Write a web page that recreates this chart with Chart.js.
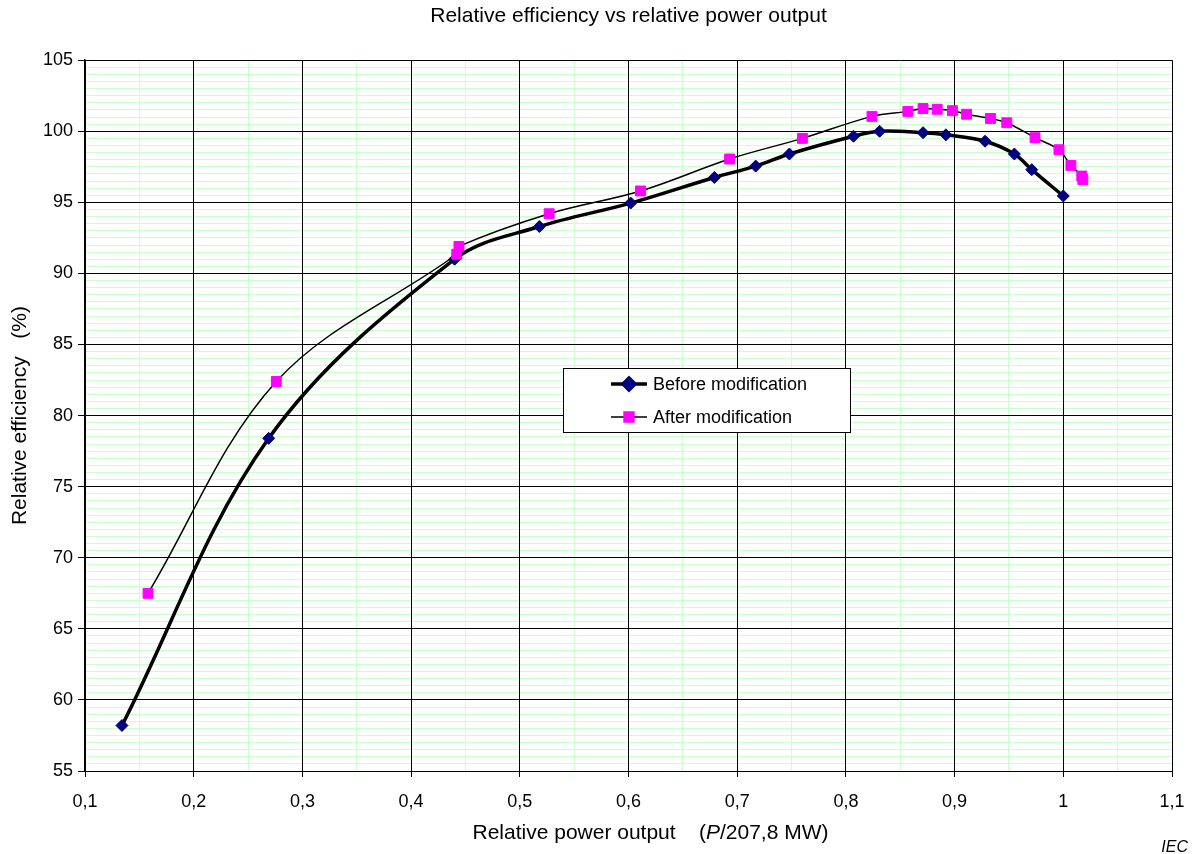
<!DOCTYPE html>
<html>
<head>
<meta charset="utf-8">
<script src="https://cdn.jsdelivr.net/npm/chart.js@4"></script>
<style>
  html, body { margin: 0; padding: 0; background: #fff; }
  canvas { display: block; }
</style>
</head>
<body>
<canvas id="chart" width="1196" height="854"></canvas>
<script>
// values
const beforeX = [0.134, 0.269, 0.440, 0.518, 0.602, 0.679, 0.717, 0.748, 0.807, 0.831, 0.871, 0.892, 0.928, 0.955, 0.971, 1.000];
const beforeY = [58.2, 78.4, 91.0, 93.3, 94.95, 96.75, 97.55, 98.4, 99.65, 100.0, 99.9, 99.75, 99.3, 98.4, 97.3, 95.45];
const afterX = [0.158, 0.276, 0.442, 0.444, 0.527, 0.611, 0.693, 0.760, 0.824, 0.857, 0.871, 0.884, 0.898, 0.911, 0.933, 0.948, 0.974, 0.996, 1.007, 1.017, 1.018];
const afterY = [67.5, 82.4, 91.35, 91.9, 94.2, 95.8, 98.05, 99.5, 101.05, 101.4, 101.6, 101.55, 101.45, 101.2, 100.9, 100.6, 99.55, 98.7, 97.6, 96.85, 96.6];
const seriesNames = ['Before modification', 'After modification'];
const chartTitle = 'Relative efficiency vs relative power output';
const yTitle = 'Relative efficiency   (%)';

const FONT = "'Liberation Sans', Arial, sans-serif";
Chart.defaults.color = '#000';
Chart.defaults.font.family = FONT;
Chart.defaults.font.size = 18;

const toPoints = (xs, ys) => xs.map((x, i) => ({ x: x, y: ys[i] }));
const MINOR = '#ccffcc';

// x-axis title with italic P, the IEC mark and the boxed legend
const extrasPlugin = {
  id: 'extras',
  afterDraw(chart) {
    const { ctx, chartArea } = chart;
    ctx.save();
    ctx.fillStyle = '#000';
    ctx.textBaseline = 'middle';

    // x axis title
    const parts = [
      { t: 'Relative power output    (', f: '21px ' + FONT },
      { t: 'P', f: 'italic 21px ' + FONT },
      { t: '/207,8 MW)', f: '21px ' + FONT }
    ];
    let total = 0;
    parts.forEach(p => { ctx.font = p.f; p.w = ctx.measureText(p.t).width; total += p.w; });
    let x = (chartArea.left + chartArea.right) / 2 + 22 - total / 2;
    ctx.textAlign = 'left';
    parts.forEach(p => { ctx.font = p.f; ctx.fillText(p.t, x, 833); x += p.w; });

    // IEC
    ctx.font = 'italic 16px ' + FONT;
    ctx.textAlign = 'right';
    ctx.textBaseline = 'alphabetic';
    ctx.fillText('IEC', 1188, 852);

    // legend
    const bx = 563.5, by = 368.5, bw = 287, bh = 64;
    ctx.fillStyle = '#fff';
    ctx.fillRect(bx, by, bw, bh);
    ctx.strokeStyle = '#000';
    ctx.lineWidth = 1;
    ctx.strokeRect(bx, by, bw, bh);
    const rows = [384, 417];
    chart.data.datasets.forEach(ds => {
      const ry = rows[ds.legendRow];
      ctx.beginPath();
      ctx.strokeStyle = ds.borderColor;
      ctx.lineWidth = ds.borderWidth;
      ctx.moveTo(611, ry);
      ctx.lineTo(647, ry);
      ctx.stroke();
      ctx.fillStyle = ds.pointBackgroundColor;
      ctx.strokeStyle = ds.pointBorderColor;
      Chart.helpers.drawPoint(ctx, { pointStyle: ds.pointStyle, radius: ds.pointRadius, borderWidth: 1, rotation: 0 }, 629, ry);
      ctx.fillStyle = '#000';
      ctx.font = '18px ' + FONT;
      ctx.textAlign = 'left';
      ctx.textBaseline = 'middle';
      ctx.fillText(ds.label, 653, ry + 1);
    });
    ctx.restore();
  }
};

// hidden axes that only carry the light green minor grid, drawn under the major one
const minorAxis = (pos, min, max, step) => ({
  type: 'linear',
  position: pos,
  min: min,
  max: max,
  afterFit(scale) {
    if (pos === 'bottom') scale.height = 0; else scale.width = 0;
    scale.paddingLeft = scale.paddingRight = scale.paddingTop = scale.paddingBottom = 0;
  },
  ticks: { display: false, stepSize: step, autoSkip: false },
  grid: { color: MINOR, drawTicks: false, z: -2, lineWidth: 1 },
  border: { display: false }
});

new Chart(document.getElementById('chart'), {
  type: 'scatter',
  data: {
    datasets: [
      {
        label: seriesNames[1],
        legendRow: 1,
        data: toPoints(afterX, afterY),
        showLine: true,
        borderColor: '#000',
        borderWidth: 1.5,
        tension: 0.35,
        pointStyle: 'rect',
        pointRadius: 7,
        pointBackgroundColor: '#ff00ff',
        pointBorderColor: '#ff00ff',
        pointBorderWidth: 1
      },
      {
        label: seriesNames[0],
        legendRow: 0,
        data: toPoints(beforeX, beforeY),
        showLine: true,
        borderColor: '#000',
        borderWidth: 3.5,
        tension: 0.35,
        pointStyle: 'rectRot',
        pointRadius: 6,
        pointBackgroundColor: '#000080',
        pointBorderColor: '#000080',
        pointBorderWidth: 1
      }
    ]
  },
  options: {
    responsive: false,
    animation: false,
    layout: { padding: { left: 0, right: 24, top: 0, bottom: 0 } },
    plugins: {
      legend: { display: false },
      tooltip: { enabled: false },
      title: {
        display: true,
        fullSize: false,
        text: chartTitle,
        color: '#000',
        font: { size: 21, weight: 'normal' },
        padding: { top: 4, bottom: 31 }
      }
    },
    scales: {
      x: {
        type: 'linear',
        min: 0.1,
        max: 1.1,
        afterFit(scale) {
          scale.height = 83;
          scale.paddingLeft = scale.paddingRight = 0;
        },
        ticks: {
          stepSize: 0.1,
          autoSkip: false,
          maxRotation: 0,
          padding: 14,
          callback: v => String(Math.round(v * 10) / 10).replace('.', ',')
        },
        grid: { color: '#000', tickColor: '#000', tickLength: 6, lineWidth: 1 },
        border: { color: '#000', width: 1 }
      },
      y: {
        type: 'linear',
        min: 55,
        max: 105,
        afterFit(scale) { scale.width = 85; },
        ticks: { stepSize: 5, autoSkip: false, padding: 5 },
        grid: { color: '#000', tickColor: '#000', tickLength: 7, lineWidth: 1 },
        border: { color: '#000', width: 1.5 },
        title: {
          display: true,
          text: yTitle,
          font: { size: 21 },
          padding: { top: 8, bottom: 0 }
        }
      },
      xMinor: minorAxis('bottom', 0.1, 1.1, 0.05),
      yMinor: minorAxis('left', 55, 105, 0.5)
    }
  },
  plugins: [extrasPlugin]
});
</script>
</body>
</html>
